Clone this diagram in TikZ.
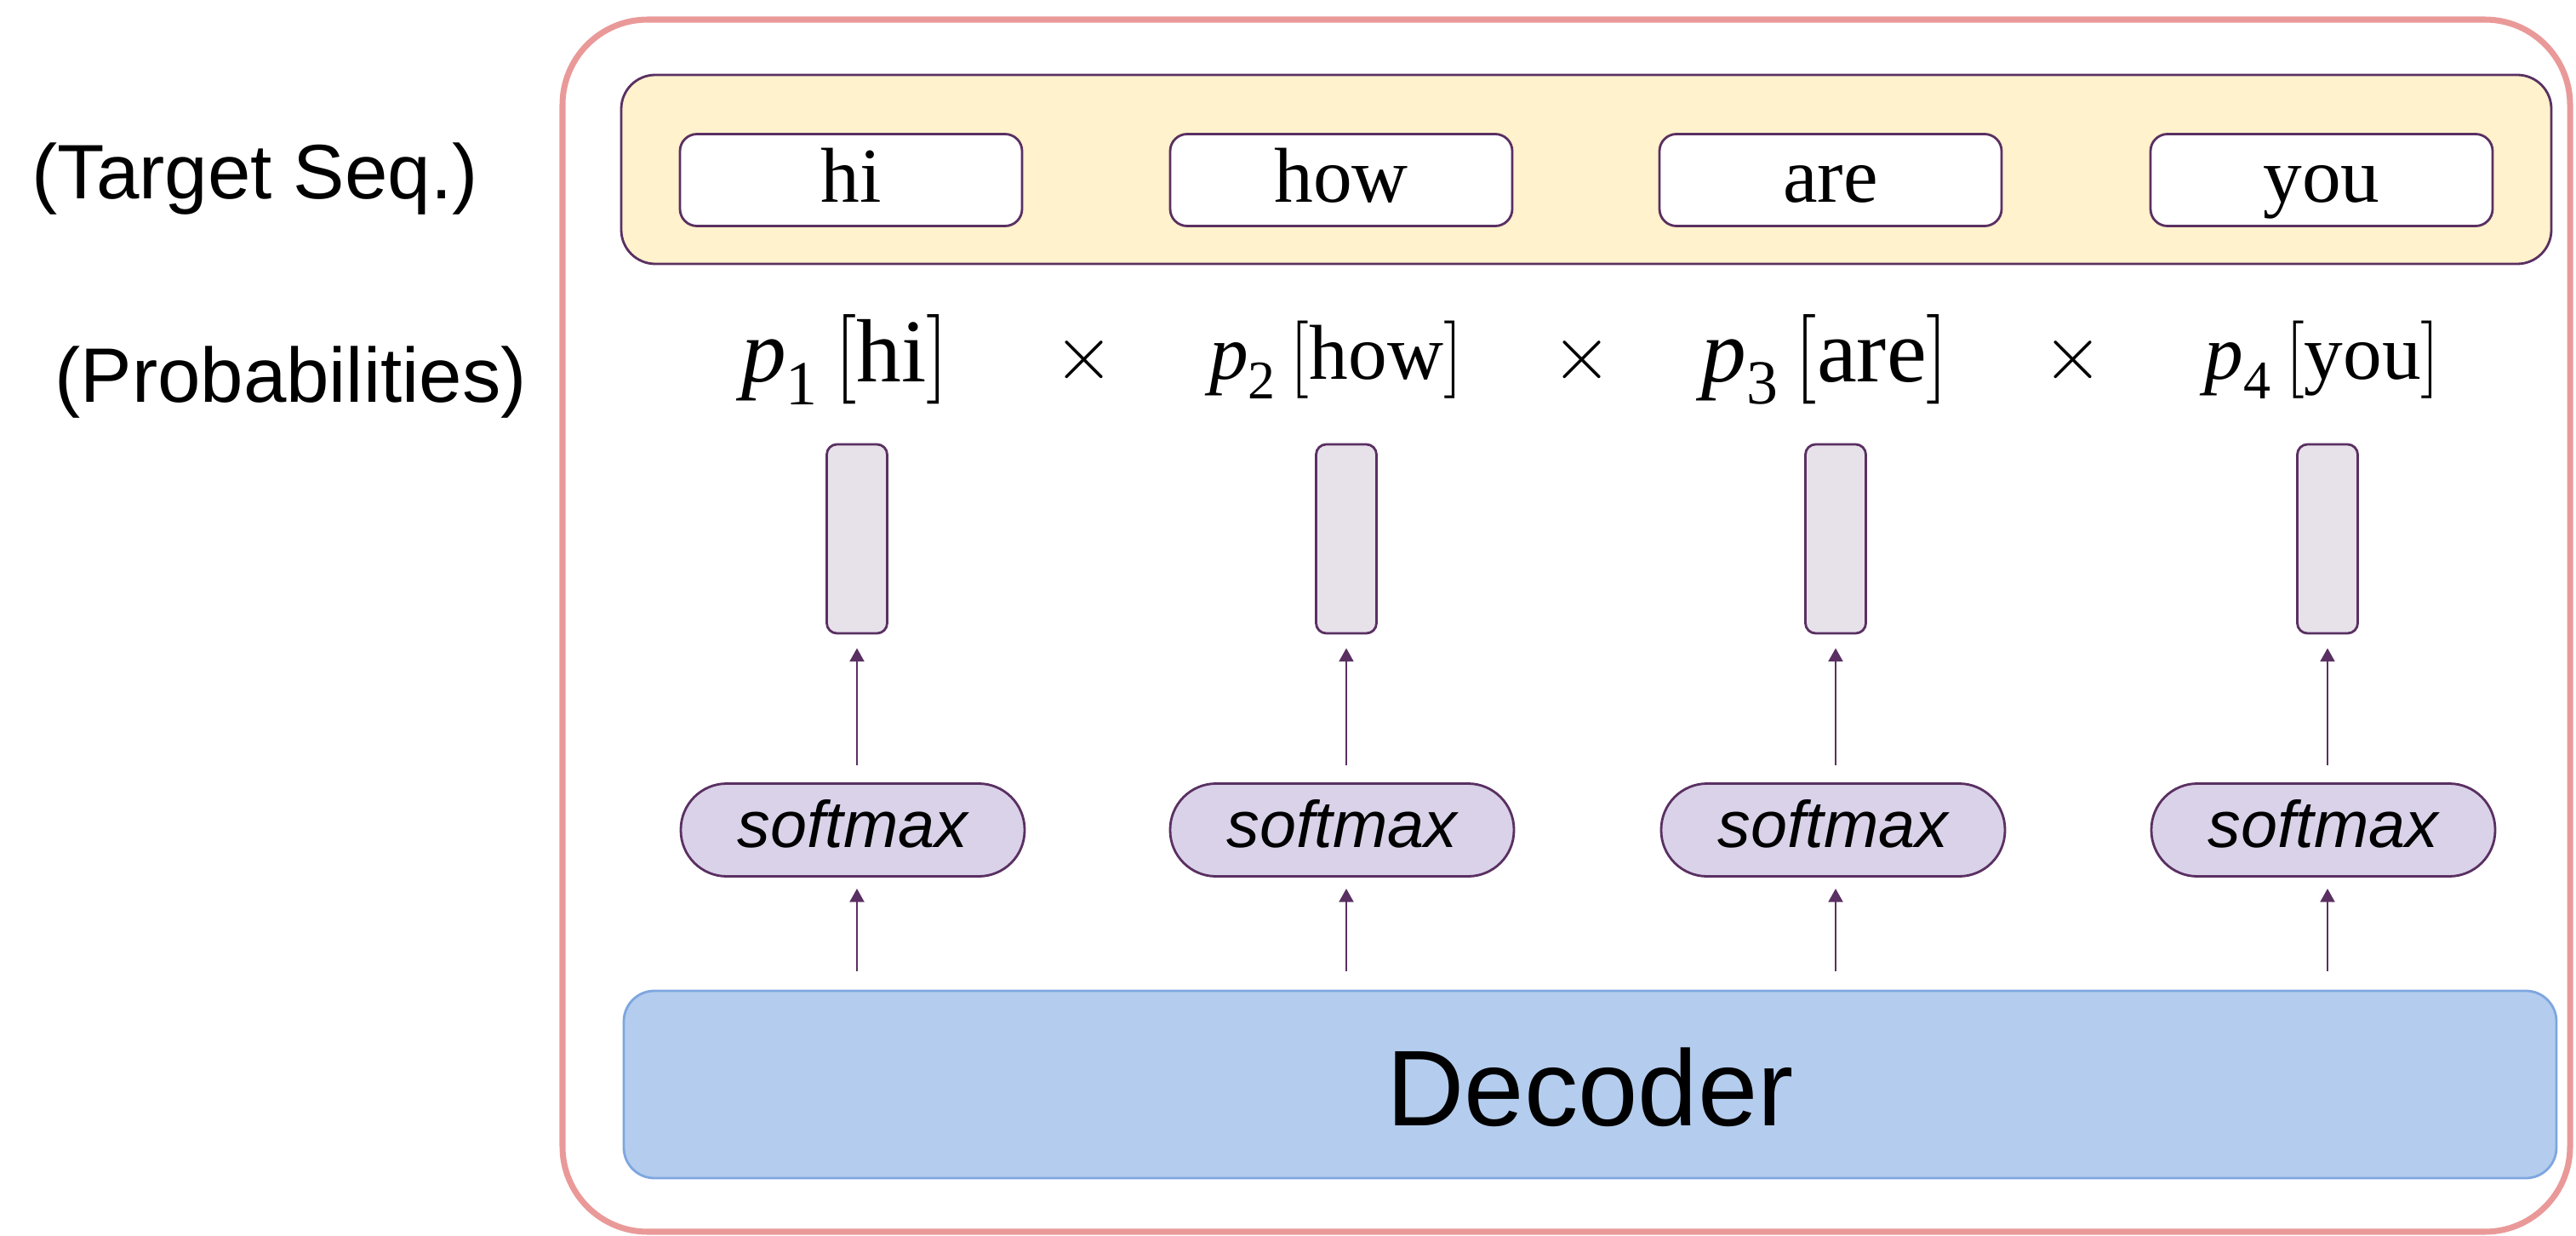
\RequirePackage{fix-cm}
\documentclass[tikz,border=0pt]{standalone}
\usepackage{fontspec}
\usepackage{amsmath}
\setmainfont{Liberation Serif}
\setsansfont{Liberation Sans}
\usetikzlibrary{arrows.meta}

\definecolor{framepink}{HTML}{EA9999}
\definecolor{seqyellow}{HTML}{FFF2CC}
\definecolor{edgepurple}{HTML}{5A3062}
\definecolor{probgray}{HTML}{E7E2EA}
\definecolor{smlilac}{HTML}{D9D2E9}
\definecolor{decblue}{HTML}{B4CDEE}
\definecolor{decedge}{HTML}{7EA6E0}

\begin{document}
\begin{tikzpicture}[
    wordbox/.style={draw=edgepurple, line width=0.8pt, fill=white, rounded corners=0.2cm,
      minimum width=4.02cm, minimum height=1.08cm, inner sep=0pt,
      text height=0.6cm, text depth=0.09cm, font=\fontsize{26}{30}\selectfont},
    probbar/.style={draw=edgepurple, line width=0.8pt, fill=probgray, rounded corners=0.12cm,
      minimum width=0.71cm, minimum height=2.22cm, inner sep=0pt},
    smpill/.style={draw=edgepurple, line width=0.8pt, fill=smlilac, rounded corners=0.54cm,
      minimum width=4.04cm, minimum height=1.09cm, inner sep=0pt,
      text height=0.56cm, text depth=0.16cm, font=\sffamily\itshape\fontsize{22}{26}\selectfont},
    flow/.style={draw=edgepurple, line width=0.8pt, -{Triangle[width=4.8pt,length=4.5pt]}},
    sidelabel/.style={font=\sffamily\fontsize{25.8}{30}\selectfont},
    bigprob/.style={font=\fontsize{30}{36}\selectfont},
    smallprob/.style={font=\fontsize{26}{31}\selectfont},
  ]

	\useasboundingbox (0,0) rectangle (30.27,-14.52);

	% Column positions
	\def\rowword{-2.115}
	\def\rowprob{-4.225}
	\def\rowbar{-6.33}
	\def\rowsm{-9.75}

	% Outer frame
	\draw[framepink, line width=2pt, rounded corners=1cm] (6.61,-0.23) rectangle (30.20,-14.47);

	% Target sequence band
	\node[draw=edgepurple, line width=0.8pt, fill=seqyellow, rounded corners=0.4cm,
	  minimum width=22.68cm, minimum height=2.22cm] (seqband) at (18.64,-1.99) {};

	\node[wordbox] (wA) at (10.00, \rowword) {hi};
	\node[wordbox] (wB) at (15.76, \rowword) {how};
	\node[wordbox] (wC) at (21.51, \rowword) {are};
	\node[wordbox] (wD) at (27.28, \rowword) {you};

	% Probabilities
	\node[bigprob] (pA) at (9.93, \rowprob) {$\textit{p}_{\text{1}}\left[\text{hi}\right]$};
	\node[smallprob] (pB) at (15.70, \rowprob) {$\textit{p}_{\text{2}}\left[\text{how}\right]$};
	\node[bigprob] (pC) at (21.45, \rowprob) {$\textit{p}_{\text{3}}\left[\text{are}\right]$};
	\node[smallprob] (pD) at (27.29, \rowprob) {$\textit{p}_{\text{4}}\left[\text{you}\right]$};

	\node[smallprob] (tAB) at (12.74, \rowprob) {$\times$};
	\node[smallprob] (tBC) at (18.59, \rowprob) {$\times$};
	\node[smallprob] (tCD) at (24.36, \rowprob) {$\times$};

	% Output vectors
	\node[probbar] (barA) at (10.07, \rowbar) {};
	\node[probbar] (barB) at (15.82, \rowbar) {};
	\node[probbar] (barC) at (21.57, \rowbar) {};
	\node[probbar] (barD) at (27.35, \rowbar) {};

	% Softmax layers
	\node[smpill] (smA) at (10.02, \rowsm) {softmax};
	\node[smpill] (smB) at (15.77, \rowsm) {softmax};
	\node[smpill] (smC) at (21.54, \rowsm) {softmax};
	\node[smpill] (smD) at (27.30, \rowsm) {softmax};

	% Decoder
	\node[draw=decedge, line width=0.8pt, fill=decblue, rounded corners=0.36cm,
	  minimum width=22.71cm, minimum height=2.20cm, text height=1.0cm, text depth=0.04cm,
	  font=\sffamily\fontsize{36}{42}\selectfont] (dec) at (18.685,-12.74) {Decoder};

	% Arrows
	\draw[flow, shorten <=0.22cm, shorten >=0.13cm] (barA |- dec.north) -- (barA |- smA.south);
	\draw[flow, shorten <=0.22cm, shorten >=0.13cm] (barB |- dec.north) -- (barB |- smB.south);
	\draw[flow, shorten <=0.22cm, shorten >=0.13cm] (barC |- dec.north) -- (barC |- smC.south);
	\draw[flow, shorten <=0.22cm, shorten >=0.13cm] (barD |- dec.north) -- (barD |- smD.south);

	\draw[flow, shorten <=0.2cm, shorten >=0.16cm] (barA |- smA.north) -- (barA);
	\draw[flow, shorten <=0.2cm, shorten >=0.16cm] (barB |- smB.north) -- (barB);
	\draw[flow, shorten <=0.2cm, shorten >=0.16cm] (barC |- smC.north) -- (barC);
	\draw[flow, shorten <=0.2cm, shorten >=0.16cm] (barD |- smD.north) -- (barD);

	% Row labels
	\node[sidelabel] (lbltarget) at (2.995,-2.10) {(Target Seq.)};
	\node[sidelabel] (lblprob) at (3.415,-4.49) {(Probabilities)};

\end{tikzpicture}
\end{document}
